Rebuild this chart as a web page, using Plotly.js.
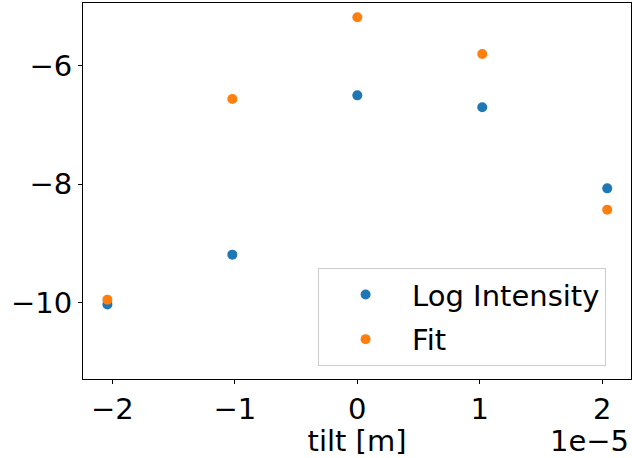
<!DOCTYPE html>
<html>
<head>
<meta charset="utf-8">
<script src="https://cdn.plot.ly/plotly-3.0.1.min.js"></script>
<style>
  html, body { margin: 0; padding: 0; background: #fff; }
  #chart { width: 632px; height: 458px; }
</style>
</head>
<body>
<div id="chart"></div>
<script>
// Tilt scan: measured log intensity and the fitted model
const tilt = [-2.04e-5, -1.02e-5, 0, 1.02e-5, 2.04e-5];
const logIntensity = [-10.03, -9.19, -6.50, -6.70, -8.07];
const fitValues = [-9.95, -6.56, -5.18, -5.80, -8.43];

const xTickVals = [-2e-5, -1e-5, 0, 1e-5, 2e-5];
const xTickText = ['\u22122', '\u22121', '0', '1', '2'];
const yTickVals = [-10, -8, -6];
const yTickText = ['\u221210', '\u22128', '\u22126'];

const font = { family: 'DejaVu Sans', size: 29, color: '#000' };

const traces = [
  {
    x: tilt, y: logIntensity, name: 'Log Intensity',
    type: 'scatter', mode: 'markers',
    marker: { color: '#1f77b4', size: 10 },
    legendgroup: 'a'
  },
  {
    x: tilt, y: fitValues, name: 'Fit',
    type: 'scatter', mode: 'markers',
    marker: { color: '#ff7f0e', size: 10 },
    legendgroup: 'b'
  }
];

const axisCommon = {
  showgrid: false, zeroline: false,
  showline: true, mirror: true, linecolor: '#000', linewidth: 1,
  ticks: 'outside', ticklen: 4, tickwidth: 1, tickcolor: '#000',
  tickfont: font, tickmode: 'array'
};

const layout = {
  width: 632, height: 458,
  margin: { l: 83, r: 1, t: 3, b: 79 },
  paper_bgcolor: '#fff', plot_bgcolor: '#fff',
  font: font,
  showlegend: true,
  legend: {
    x: 0.429, y: 0.295, xanchor: 'left', yanchor: 'top',
    bgcolor: 'rgba(255,255,255,0.8)', bordercolor: '#cccccc', borderwidth: 1,
    font: font, itemwidth: 83, tracegroupgap: 4
  },
  xaxis: Object.assign({}, axisCommon, {
    range: [-2.239e-5, 2.234e-5],
    tickvals: xTickVals, ticktext: xTickText,
    title: { text: 'tilt [m]', font: font, standoff: 2 }
  }),
  yaxis: Object.assign({}, axisCommon, {
    range: [-11.29, -4.94],
    tickvals: yTickVals, ticktext: yTickText
  }),
  annotations: [{
    text: '1e\u22125', xref: 'paper', yref: 'paper',
    x: 1, y: 0, xanchor: 'right', yanchor: 'middle',
    yshift: -62, xshift: 0, showarrow: false, font: font
  }]
};

Plotly.newPlot('chart', traces, layout, { displayModeBar: false, staticPlot: true });
</script>
</body>
</html>
